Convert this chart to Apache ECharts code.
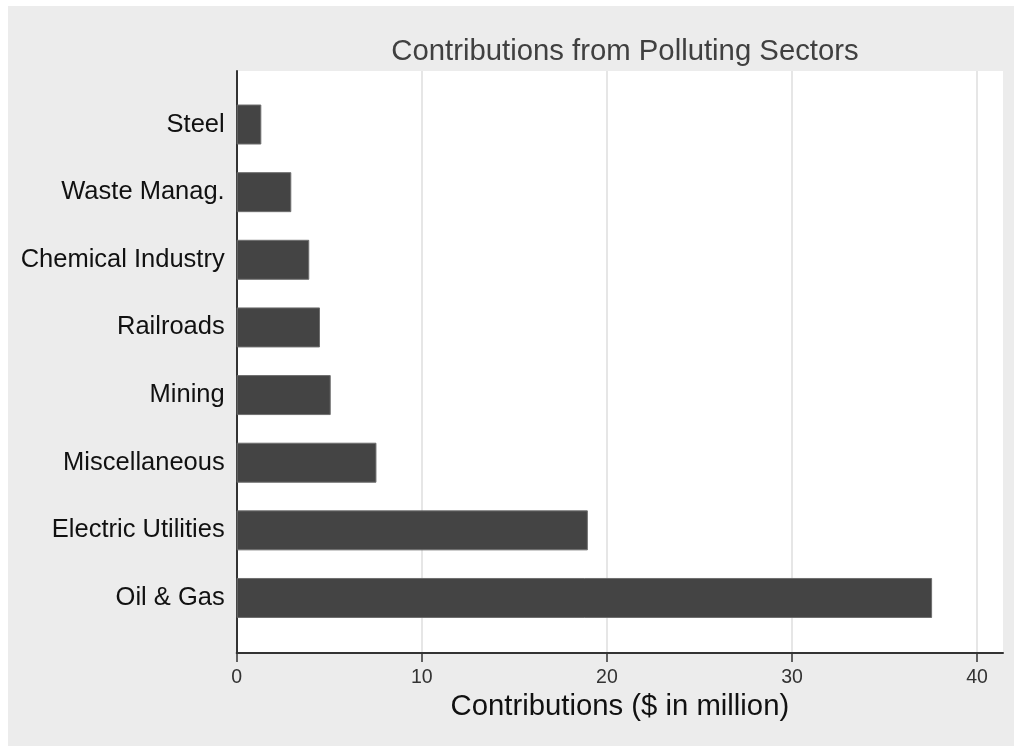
<!DOCTYPE html>
<html>
<head>
<meta charset="utf-8">
<script src="https://cdn.jsdelivr.net/npm/echarts@6/dist/echarts.min.js"></script>
<style>
  html, body { margin: 0; padding: 0; background: #fff; }
  #chart { position: absolute; left: 8px; top: 6px; width: 1006px; height: 740px; }
</style>
</head>
<body>
<div id="chart"></div>
<script>
// Data
const categories = ['Steel', 'Waste Manag.', 'Chemical Industry', 'Railroads', 'Mining', 'Miscellaneous', 'Electric Utilities', 'Oil & Gas'];
const contributions = [1.33, 2.95, 3.92, 4.50, 5.08, 7.55, 18.97, 37.57];
const xTicks = [0, 10, 20, 30, 40];

const font = "'Liberation Sans', Arial, sans-serif";

const option = {
  backgroundColor: '#ececec',
  textStyle: { fontFamily: font },
  title: {
    text: 'Contributions from Polluting Sectors',
    left: 612,
    textAlign: 'center',
    top: 26,
    textStyle: { fontSize: 29.3, fontWeight: 'normal', color: '#404040', fontFamily: font }
  },
  grid: [
    // plot area (white) with x axis
    { left: 228.7, top: 65, right: 11, bottom: 93, show: true, backgroundColor: '#fff', borderWidth: 0 },
    // bar bands
    { left: 228.7, top: 84.7, right: 11, bottom: 114.2 }
  ],
  xAxis: [
    {
      gridIndex: 0,
      type: 'value',
      min: 0,
      max: 41.4,
      name: 'Contributions ($ in million)',
      nameLocation: 'middle',
      nameGap: 32,
      nameTextStyle: { fontSize: 29.3, color: '#111', fontFamily: font },
      axisLine: { show: true, lineStyle: { color: '#333', width: 2 } },
      axisTick: { show: true, length: 9, customValues: xTicks, lineStyle: { color: '#333', width: 1.5 } },
      axisLabel: { customValues: xTicks, fontSize: 19.5, color: '#333', margin: 15, fontFamily: font },
      splitLine: { show: true, lineStyle: { color: '#e6e6e6', width: 2 } }
    },
    {
      gridIndex: 1,
      type: 'value',
      min: 0,
      max: 41.4,
      show: false
    }
  ],
  yAxis: [
    {
      gridIndex: 0,
      type: 'value',
      min: 0,
      max: 1,
      axisLine: { show: true, lineStyle: { color: '#333', width: 2 } },
      axisTick: { show: false },
      axisLabel: { show: false },
      splitLine: { show: false }
    },
    {
      gridIndex: 1,
      type: 'category',
      inverse: true,
      data: categories,
      axisLine: { show: false },
      axisTick: { show: false },
      axisLabel: { fontSize: 25.5, color: '#111', margin: 12, padding: [5, 0, 0, 0], fontFamily: font },
      splitLine: { show: false }
    }
  ],
  series: [
    {
      name: 'Contributions',
      type: 'bar',
      xAxisIndex: 1,
      yAxisIndex: 1,
      data: contributions,
      barWidth: 40,
      itemStyle: { color: '#444', borderColor: '#6e6e6e', borderWidth: 1 },
      silent: true
    }
  ],
  animation: false
};

const myChart = echarts.init(document.getElementById('chart'));
myChart.setOption(option);
</script>
</body>
</html>
